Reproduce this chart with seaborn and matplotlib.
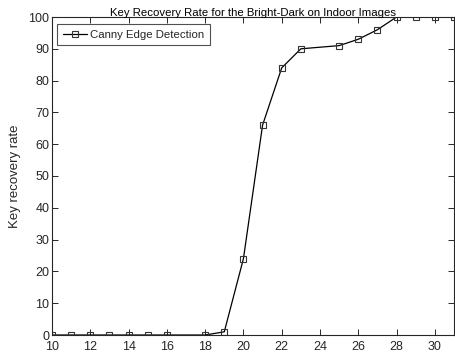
import matplotlib
matplotlib.use("Agg")
import matplotlib.pyplot as plt
import seaborn as sns
import pandas as pd

threshold = [10, 11, 12, 13, 14, 15, 16, 18, 19, 20, 21, 22, 23, 25, 26, 27, 28, 29, 30, 31]
recovery = [0, 0, 0, 0, 0, 0, 0, 0, 1, 24, 66, 84, 90, 91, 93, 96, 100, 100, 100, 100]
series_name = "Canny Edge Detection"

df = pd.DataFrame({"x": threshold, "y": recovery})

sns.set_theme(style="white")
plt.rcParams["font.family"] = ["Liberation Sans", "DejaVu Sans"]

fig = plt.figure(figsize=(4.55, 3.56), dpi=100)
ax = fig.add_axes([52 / 455, 1 - 335 / 356, 402 / 455, 318 / 356])

sns.lineplot(data=df, x="x", y="y", ax=ax, color="black", linewidth=0.9,
             marker="s", markersize=4.5, markerfacecolor="none",
             markeredgecolor="#333333", markeredgewidth=0.8, label=series_name)

ax.set_xlim(10, 31)
ax.set_ylim(0, 100)
ax.set_xticks(range(10, 31, 2))
ax.set_yticks(range(0, 101, 10))
grey = "#262626"
ax.tick_params(direction="in", length=4, width=0.7, colors=grey, labelsize=9,
               bottom=True, left=True, top=True, right=True, labelcolor=grey)
ax.tick_params(axis="x", pad=4)
ax.tick_params(axis="y", pad=2)
for s in ax.spines.values():
    s.set_color(grey)
    s.set_linewidth(0.8)
ax.set_xlabel("")
ax.set_ylabel("Key recovery rate", fontsize=9.5, color=grey, labelpad=5)
ax.set_title("Key Recovery Rate for the Bright-Dark on Indoor Images", fontsize=8.2,
             color="black", pad=1)

leg = ax.legend(loc="upper left", bbox_to_anchor=(5 / 402, 1 - 7 / 318),
                fontsize=8.2, frameon=True, fancybox=False,
                borderpad=0.5, handlelength=2.1, handletextpad=0.3,
                borderaxespad=0)
leg.get_frame().set_edgecolor(grey)
leg.get_frame().set_linewidth(0.8)

fig.savefig("out.png", dpi=100)
